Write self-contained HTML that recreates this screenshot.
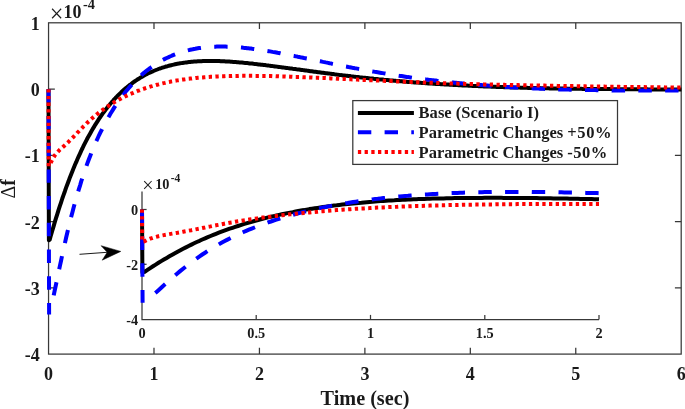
<!DOCTYPE html>
<html><head><meta charset="utf-8"><title>Figure</title>
<style>html,body{margin:0;padding:0;background:#fff}svg{display:block}text{font-family:"Liberation Serif","Times New Roman",serif;font-weight:bold;fill:#1a1a1a}.r{font-weight:normal}</style></head><body>
<svg width="685" height="409" viewBox="0 0 685 409">
<rect width="685" height="409" fill="#fff"/>
<g stroke="#383838" stroke-width="1.25" fill="none">
<rect x="48.55" y="22.80" width="632.65" height="331.30"/>
<path d="M153.99 354.10v-6.3M153.99 22.80v6.3"/>
<path d="M259.43 354.10v-6.3M259.43 22.80v6.3"/>
<path d="M364.88 354.10v-6.3M364.88 22.80v6.3"/>
<path d="M470.32 354.10v-6.3M470.32 22.80v6.3"/>
<path d="M575.76 354.10v-6.3M575.76 22.80v6.3"/>
<path d="M48.55 89.06h6.3M681.20 89.06h-6.3"/>
<path d="M48.55 155.32h6.3M681.20 155.32h-6.3"/>
<path d="M48.55 221.58h6.3M681.20 221.58h-6.3"/>
<path d="M48.55 287.84h6.3M681.20 287.84h-6.3"/>
</g>
<g font-size="18" text-anchor="end">
<text x="39.8" y="29.7">1</text>
<text x="39.8" y="96.0">0</text>
<text x="39.8" y="162.2">-1</text>
<text x="39.8" y="228.5">-2</text>
<text x="39.8" y="294.7">-3</text>
<text x="39.8" y="361.0">-4</text>
</g>
<g font-size="18" text-anchor="middle">
<text x="48.5" y="379.8">0</text>
<text x="154.0" y="379.8">1</text>
<text x="259.4" y="379.8">2</text>
<text x="364.9" y="379.8">3</text>
<text x="470.3" y="379.8">4</text>
<text x="575.8" y="379.8">5</text>
<text x="681.2" y="379.8">6</text>
</g>
<text x="365" y="405.2" font-size="20.2" text-anchor="middle">Time (sec)</text>
<text transform="translate(14.7 188.8) rotate(-90)" font-size="20" text-anchor="middle"><tspan class="r">Δ</tspan>f</text>
<text class="r" x="49.8" y="22.1" font-size="24.3">×</text><text x="63.5" y="18.4" font-size="18">10</text><text x="83" y="9.4" font-size="14.4">-4</text>
<path d="M48.5 89.2L48.9 240.2L49.7 239.8L50.9 235.3L52.2 231.0L53.5 226.6L54.7 222.4L56.0 218.2L57.3 214.1L58.5 210.1L59.8 206.2L61.1 202.3L62.3 198.5L63.6 194.8L64.9 191.2L66.1 187.6L67.4 184.2L68.7 180.8L69.9 177.4L71.2 174.2L72.5 171.0L73.7 167.9L75.0 164.8L76.3 161.9L77.5 159.0L78.8 156.1L80.1 153.3L81.3 150.6L82.6 148.0L83.8 145.4L85.1 142.9L86.4 140.4L87.6 138.0L88.9 135.7L90.2 133.4L91.4 131.2L92.7 129.0L94.0 126.9L95.2 124.8L96.5 122.8L97.8 120.8L99.0 118.9L100.3 117.0L101.6 115.2L102.8 113.4L104.1 111.7L105.4 110.0L106.6 108.4L107.9 106.8L109.2 105.2L110.4 103.7L111.7 102.2L113.0 100.8L114.2 99.4L115.5 98.0L116.8 96.7L118.0 95.4L119.3 94.1L120.6 92.9L121.8 91.7L123.1 90.5L124.4 89.4L125.6 88.3L126.9 87.3L128.2 86.2L129.4 85.2L130.7 84.3L132.0 83.3L133.2 82.4L134.5 81.5L135.8 80.6L137.0 79.8L138.3 79.0L139.6 78.2L140.8 77.4L142.1 76.7L143.3 76.0L144.6 75.3L145.9 74.6L147.1 73.9L148.4 73.3L149.7 72.7L150.9 72.1L152.2 71.6L153.5 71.0L154.7 70.5L156.0 70.0L157.3 69.5L158.5 69.0L159.8 68.5L161.1 68.1L162.3 67.7L163.6 67.3L164.9 66.9L166.1 66.5L167.4 66.2L168.7 65.8L169.9 65.5L171.2 65.2L172.5 64.9L173.7 64.6L175.0 64.3L176.3 64.0L177.5 63.8L178.8 63.6L180.1 63.3L181.3 63.1L182.6 62.9L183.9 62.7L185.1 62.6L186.4 62.4L187.7 62.2L188.9 62.1L190.2 62.0L191.5 61.8L192.7 61.7L194.0 61.6L195.3 61.5L196.5 61.4L197.8 61.3L199.1 61.3L200.3 61.2L201.6 61.2L202.9 61.1L204.1 61.1L205.4 61.0L206.7 61.0L207.9 61.0L209.2 61.0L210.4 61.0L211.7 61.0L213.0 61.0L214.2 61.0L215.5 61.0L216.8 61.1L218.0 61.1L219.3 61.1L220.6 61.2L221.8 61.2L223.1 61.3L224.4 61.3L225.6 61.4L226.9 61.5L228.2 61.6L229.4 61.6L230.7 61.7L232.0 61.8L233.2 61.9L234.5 62.0L235.8 62.1L237.0 62.2L238.3 62.3L239.6 62.4L240.8 62.5L242.1 62.6L243.4 62.7L244.6 62.9L245.9 63.0L247.2 63.1L248.4 63.2L249.7 63.4L251.0 63.5L252.2 63.6L253.5 63.8L254.8 63.9L256.0 64.1L257.3 64.2L258.6 64.4L259.8 64.5L261.1 64.7L262.4 64.8L263.6 65.0L264.9 65.1L266.2 65.3L267.4 65.4L268.7 65.6L269.9 65.7L271.2 65.9L272.5 66.1L273.7 66.2L275.0 66.4L276.3 66.6L277.5 66.7L278.8 66.9L280.1 67.1L281.3 67.2L282.6 67.4L283.9 67.6L285.1 67.7L286.4 67.9L287.7 68.1L288.9 68.2L290.2 68.4L291.5 68.6L292.7 68.8L294.0 68.9L295.3 69.1L296.5 69.3L297.8 69.4L299.1 69.6L300.3 69.8L301.6 70.0L302.9 70.1L304.1 70.3L305.4 70.5L306.7 70.6L307.9 70.8L309.2 71.0L310.5 71.2L311.7 71.3L313.0 71.5L314.3 71.7L315.5 71.8L316.8 72.0L318.1 72.2L319.3 72.3L320.6 72.5L321.9 72.7L323.1 72.8L324.4 73.0L325.7 73.2L326.9 73.3L328.2 73.5L329.5 73.6L330.7 73.8L332.0 74.0L333.2 74.1L334.5 74.3L335.8 74.4L337.0 74.6L338.3 74.8L339.6 74.9L340.8 75.1L342.1 75.2L343.4 75.4L344.6 75.5L345.9 75.7L347.2 75.8L348.4 76.0L349.7 76.1L351.0 76.3L352.2 76.4L353.5 76.6L354.8 76.7L356.0 76.9L357.3 77.0L358.6 77.1L359.8 77.3L361.1 77.4L362.4 77.6L363.6 77.7L364.9 77.8L366.2 78.0L367.4 78.1L368.7 78.2L370.0 78.4L371.2 78.5L372.5 78.6L373.8 78.8L375.0 78.9L376.3 79.0L377.6 79.1L378.8 79.3L380.1 79.4L381.4 79.5L382.6 79.6L383.9 79.8L385.2 79.9L386.4 80.0L387.7 80.1L389.0 80.2L390.2 80.4L391.5 80.5L392.8 80.6L394.0 80.7L395.3 80.8L396.6 80.9L397.8 81.0L399.1 81.1L400.3 81.2L401.6 81.3L402.9 81.5L404.1 81.6L405.4 81.7L406.7 81.8L407.9 81.9L409.2 82.0L410.5 82.1L411.7 82.2L413.0 82.3L414.3 82.4L415.5 82.5L416.8 82.5L418.1 82.6L419.3 82.7L420.6 82.8L421.9 82.9L423.1 83.0L424.4 83.1L425.7 83.2L426.9 83.3L428.2 83.4L429.5 83.4L430.7 83.5L432.0 83.6L433.3 83.7L434.5 83.8L435.8 83.9L437.1 83.9L438.3 84.0L439.6 84.1L440.9 84.2L442.1 84.3L443.4 84.3L444.7 84.4L445.9 84.5L447.2 84.6L448.5 84.6L449.7 84.7L451.0 84.8L452.3 84.8L453.5 84.9L454.8 85.0L456.1 85.1L457.3 85.1L458.6 85.2L459.8 85.3L461.1 85.3L462.4 85.4L463.6 85.5L464.9 85.5L466.2 85.6L467.4 85.6L468.7 85.7L470.0 85.8L471.2 85.8L472.5 85.9L473.8 85.9L475.0 86.0L476.3 86.1L477.6 86.1L478.8 86.2L480.1 86.2L481.4 86.3L482.6 86.3L483.9 86.4L485.2 86.4L486.4 86.5L487.7 86.5L489.0 86.6L490.2 86.6L491.5 86.7L492.8 86.7L494.0 86.8L495.3 86.8L496.6 86.9L497.8 86.9L499.1 87.0L500.4 87.0L501.6 87.1L502.9 87.1L504.2 87.2L505.4 87.2L506.7 87.2L508.0 87.3L509.2 87.3L510.5 87.4L511.8 87.4L513.0 87.4L514.3 87.5L515.6 87.5L516.8 87.6L518.1 87.6L519.4 87.6L520.6 87.7L521.9 87.7L523.1 87.7L524.4 87.8L525.7 87.8L526.9 87.8L528.2 87.9L529.5 87.9L530.7 87.9L532.0 88.0L533.3 88.0L534.5 88.0L535.8 88.1L537.1 88.1L538.3 88.1L539.6 88.1L540.9 88.2L542.1 88.2L543.4 88.2L544.7 88.3L545.9 88.3L547.2 88.3L548.5 88.3L549.7 88.4L551.0 88.4L552.3 88.4L553.5 88.4L554.8 88.5L556.1 88.5L557.3 88.5L558.6 88.5L559.9 88.5L561.1 88.6L562.4 88.6L563.7 88.6L564.9 88.6L566.2 88.6L567.5 88.7L568.7 88.7L570.0 88.7L571.3 88.7L572.5 88.7L573.8 88.8L575.1 88.8L576.3 88.8L577.6 88.8L578.9 88.8L580.1 88.8L581.4 88.8L582.7 88.9L583.9 88.9L585.2 88.9L586.4 88.9L587.7 88.9L589.0 88.9L590.2 88.9L591.5 89.0L592.8 89.0L594.0 89.0L595.3 89.0L596.6 89.0L597.8 89.0L599.1 89.0L600.4 89.0L601.6 89.1L602.9 89.1L604.2 89.1L605.4 89.1L606.7 89.1L608.0 89.1L609.2 89.1L610.5 89.1L611.8 89.1L613.0 89.2L614.3 89.2L615.6 89.2L616.8 89.2L618.1 89.2L619.4 89.2L620.6 89.2L621.9 89.2L623.2 89.2L624.4 89.2L625.7 89.2L627.0 89.2L628.2 89.3L629.5 89.3L630.8 89.3L632.0 89.3L633.3 89.3L634.6 89.3L635.8 89.3L637.1 89.3L638.4 89.3L639.6 89.3L640.9 89.3L642.2 89.3L643.4 89.3L644.7 89.3L646.0 89.3L647.2 89.3L648.5 89.4L649.7 89.4L651.0 89.4L652.3 89.4L653.5 89.4L654.8 89.4L656.1 89.4L657.3 89.4L658.6 89.4L659.9 89.4L661.1 89.4L662.4 89.4L663.7 89.4L664.9 89.4L666.2 89.4L667.5 89.4L668.7 89.4L670.0 89.4L671.3 89.4L672.5 89.4L673.8 89.4L675.1 89.4L676.3 89.4L677.6 89.4L678.9 89.4L680.1 89.5L681.4 89.5" fill="none" stroke="#000" stroke-width="4.00" stroke-linejoin="round"/>
<path d="M48.5 89.2L49.1 314.5" fill="none" stroke="#0000ff" stroke-width="4.00" stroke-dasharray="13.4 13.33" stroke-dashoffset="0"/>
<path d="M53.7 295.4L54.7 290.5L56.0 284.5L57.3 278.4L58.5 272.4L59.8 266.4L61.1 260.5L62.3 254.6L63.6 248.9L64.9 243.2L66.1 237.7L67.4 232.3L68.7 227.0L69.9 221.9L71.2 216.8L72.5 211.9L73.7 207.2L75.0 202.5L76.3 198.0L77.5 193.7L78.8 189.4L80.1 185.3L81.3 181.2L82.6 177.3L83.8 173.5L85.1 169.8L86.4 166.2L87.6 162.7L88.9 159.3L90.2 156.0L91.4 152.8L92.7 149.7L94.0 146.7L95.2 143.7L96.5 140.8L97.8 138.0L99.0 135.3L100.3 132.7L101.6 130.1L102.8 127.6L104.1 125.1L105.4 122.7L106.6 120.4L107.9 118.1L109.2 115.9L110.4 113.8L111.7 111.7L113.0 109.6L114.2 107.6L115.5 105.7L116.8 103.8L118.0 102.0L119.3 100.2L120.6 98.4L121.8 96.7L123.1 95.0L124.4 93.4L125.6 91.8L126.9 90.3L128.2 88.8L129.4 87.3L130.7 85.9L132.0 84.5L133.2 83.1L134.5 81.8L135.8 80.5L137.0 79.2L138.3 78.0L139.6 76.8L140.8 75.7L142.1 74.5L143.3 73.4L144.6 72.4L145.9 71.3L147.1 70.3L148.4 69.4L149.7 68.4L150.9 67.5L152.2 66.6L153.5 65.7L154.7 64.9L156.0 64.0L157.3 63.2L158.5 62.5L159.8 61.7L161.1 61.0L162.3 60.3L163.6 59.6L164.9 58.9L166.1 58.3L167.4 57.7L168.7 57.1L169.9 56.5L171.2 56.0L172.5 55.4L173.7 54.9L175.0 54.4L176.3 53.9L177.5 53.5L178.8 53.0L180.1 52.6L181.3 52.2L182.6 51.8L183.9 51.4L185.1 51.1L186.4 50.7L187.7 50.4L188.9 50.1L190.2 49.8L191.5 49.5L192.7 49.3L194.0 49.0L195.3 48.8L196.5 48.5L197.8 48.3L199.1 48.1L200.3 48.0L201.6 47.8L202.9 47.6L204.1 47.5L205.4 47.3L206.7 47.2L207.9 47.1L209.2 47.0L210.4 46.9L211.7 46.8L213.0 46.8L214.2 46.7L215.5 46.7L216.8 46.6L218.0 46.6L219.3 46.6L220.6 46.6L221.8 46.6L223.1 46.6L224.4 46.6L225.6 46.6L226.9 46.7L228.2 46.7L229.4 46.8L230.7 46.8L232.0 46.9L233.2 46.9L234.5 47.0L235.8 47.1L237.0 47.2L238.3 47.3L239.6 47.4L240.8 47.5L242.1 47.6L243.4 47.8L244.6 47.9L245.9 48.0L247.2 48.2L248.4 48.3L249.7 48.5L251.0 48.6L252.2 48.8L253.5 48.9L254.8 49.1L256.0 49.3L257.3 49.5L258.6 49.6L259.8 49.8L261.1 50.0L262.4 50.2L263.6 50.4L264.9 50.6L266.2 50.8L267.4 51.0L268.7 51.2L269.9 51.4L271.2 51.6L272.5 51.9L273.7 52.1L275.0 52.3L276.3 52.5L277.5 52.8L278.8 53.0L280.1 53.2L281.3 53.5L282.6 53.7L283.9 53.9L285.1 54.2L286.4 54.4L287.7 54.7L288.9 54.9L290.2 55.2L291.5 55.4L292.7 55.7L294.0 55.9L295.3 56.2L296.5 56.4L297.8 56.7L299.1 56.9L300.3 57.2L301.6 57.4L302.9 57.7L304.1 58.0L305.4 58.2L306.7 58.5L307.9 58.7L309.2 59.0L310.5 59.3L311.7 59.5L313.0 59.8L314.3 60.0L315.5 60.3L316.8 60.6L318.1 60.8L319.3 61.1L320.6 61.3L321.9 61.6L323.1 61.9L324.4 62.1L325.7 62.4L326.9 62.6L328.2 62.9L329.5 63.2L330.7 63.4L332.0 63.7L333.2 63.9L334.5 64.2L335.8 64.4L337.0 64.7L338.3 65.0L339.6 65.2L340.8 65.5L342.1 65.7L343.4 66.0L344.6 66.2L345.9 66.5L347.2 66.7L348.4 67.0L349.7 67.2L351.0 67.4L352.2 67.7L353.5 67.9L354.8 68.2L356.0 68.4L357.3 68.6L358.6 68.9L359.8 69.1L361.1 69.4L362.4 69.6L363.6 69.8L364.9 70.1L366.2 70.3L367.4 70.5L368.7 70.7L370.0 71.0L371.2 71.2L372.5 71.4L373.8 71.6L375.0 71.9L376.3 72.1L377.6 72.3L378.8 72.5L380.1 72.7L381.4 72.9L382.6 73.1L383.9 73.4L385.2 73.6L386.4 73.8L387.7 74.0L389.0 74.2L390.2 74.4L391.5 74.6L392.8 74.8L394.0 75.0L395.3 75.2L396.6 75.4L397.8 75.6L399.1 75.8L400.3 75.9L401.6 76.1L402.9 76.3L404.1 76.5L405.4 76.7L406.7 76.9L407.9 77.1L409.2 77.2L410.5 77.4L411.7 77.6L413.0 77.8L414.3 77.9L415.5 78.1L416.8 78.3L418.1 78.4L419.3 78.6L420.6 78.8L421.9 78.9L423.1 79.1L424.4 79.3L425.7 79.4L426.9 79.6L428.2 79.7L429.5 79.9L430.7 80.0L432.0 80.2L433.3 80.3L434.5 80.5L435.8 80.6L437.1 80.8L438.3 80.9L439.6 81.1L440.9 81.2L442.1 81.4L443.4 81.5L444.7 81.6L445.9 81.8L447.2 81.9L448.5 82.1L449.7 82.2L451.0 82.3L452.3 82.5L453.5 82.6L454.8 82.7L456.1 82.8L457.3 83.0L458.6 83.1L459.8 83.2L461.1 83.3L462.4 83.5L463.6 83.6L464.9 83.7L466.2 83.8L467.4 83.9L468.7 84.1L470.0 84.2L471.2 84.3L472.5 84.4L473.8 84.5L475.0 84.6L476.3 84.7L477.6 84.8L478.8 84.9L480.1 85.0L481.4 85.1L482.6 85.2L483.9 85.3L485.2 85.4L486.4 85.5L487.7 85.6L489.0 85.7L490.2 85.8L491.5 85.9L492.8 86.0L494.0 86.1L495.3 86.2L496.6 86.3L497.8 86.4L499.1 86.5L500.4 86.6L501.6 86.6L502.9 86.7L504.2 86.8L505.4 86.9L506.7 87.0L508.0 87.0L509.2 87.1L510.5 87.2L511.8 87.3L513.0 87.3L514.3 87.4L515.6 87.5L516.8 87.6L518.1 87.6L519.4 87.7L520.6 87.8L521.9 87.8L523.1 87.9L524.4 88.0L525.7 88.0L526.9 88.1L528.2 88.2L529.5 88.2L530.7 88.3L532.0 88.3L533.3 88.4L534.5 88.5L535.8 88.5L537.1 88.6L538.3 88.6L539.6 88.7L540.9 88.7L542.1 88.8L543.4 88.8L544.7 88.9L545.9 88.9L547.2 89.0L548.5 89.0L549.7 89.1L551.0 89.1L552.3 89.2L553.5 89.2L554.8 89.2L556.1 89.3L557.3 89.3L558.6 89.4L559.9 89.4L561.1 89.4L562.4 89.5L563.7 89.5L564.9 89.5L566.2 89.6L567.5 89.6L568.7 89.6L570.0 89.7L571.3 89.7L572.5 89.7L573.8 89.8L575.1 89.8L576.3 89.8L577.6 89.8L578.9 89.9L580.1 89.9L581.4 89.9L582.7 89.9L583.9 90.0L585.2 90.0L586.4 90.0L587.7 90.0L589.0 90.0L590.2 90.1L591.5 90.1L592.8 90.1L594.0 90.1L595.3 90.1L596.6 90.2L597.8 90.2L599.1 90.2L600.4 90.2L601.6 90.2L602.9 90.3L604.2 90.3L605.4 90.3L606.7 90.3L608.0 90.3L609.2 90.3L610.5 90.3L611.8 90.4L613.0 90.4L614.3 90.4L615.6 90.4L616.8 90.4L618.1 90.4L619.4 90.4L620.6 90.4L621.9 90.4L623.2 90.5L624.4 90.5L625.7 90.5L627.0 90.5L628.2 90.5L629.5 90.5L630.8 90.5L632.0 90.5L633.3 90.5L634.6 90.5L635.8 90.5L637.1 90.5L638.4 90.5L639.6 90.6L640.9 90.6L642.2 90.6L643.4 90.6L644.7 90.6L646.0 90.6L647.2 90.6L648.5 90.6L649.7 90.6L651.0 90.6L652.3 90.6L653.5 90.6L654.8 90.6L656.1 90.6L657.3 90.6L658.6 90.6L659.9 90.6L661.1 90.6L662.4 90.6L663.7 90.6L664.9 90.6L666.2 90.6L667.5 90.6L668.7 90.6L670.0 90.6L671.3 90.6L672.5 90.6L673.8 90.6L675.1 90.6L676.3 90.6L677.6 90.6L678.9 90.6L680.1 90.6L681.4 90.6" fill="none" stroke="#0000ff" stroke-width="4.00" stroke-dasharray="13.4 13.33"/>
<path d="M48.5 89.2L48.7 166.9" fill="none" stroke="#ff0000" stroke-width="4.00" stroke-dasharray="3.3 3.4" stroke-dashoffset="0"/>
<path d="M50.7 163.1L50.9 162.5L52.2 159.8L53.5 157.5L54.7 155.5L56.0 153.9L57.3 152.4L58.5 151.1L59.8 149.8L61.1 148.7L62.3 147.5L63.6 146.4L64.9 145.2L66.1 144.1L67.4 142.9L68.7 141.7L69.9 140.4L71.2 139.2L72.5 137.9L73.7 136.6L75.0 135.3L76.3 134.0L77.5 132.6L78.8 131.3L80.1 130.0L81.3 128.7L82.6 127.4L83.8 126.1L85.1 124.9L86.4 123.7L87.6 122.4L88.9 121.3L90.2 120.1L91.4 118.9L92.7 117.8L94.0 116.7L95.2 115.7L96.5 114.6L97.8 113.6L99.0 112.6L100.3 111.6L101.6 110.7L102.8 109.8L104.1 108.9L105.4 108.0L106.6 107.1L107.9 106.3L109.2 105.4L110.4 104.6L111.7 103.8L113.0 103.1L114.2 102.3L115.5 101.6L116.8 100.8L118.0 100.1L119.3 99.4L120.6 98.8L121.8 98.1L123.1 97.4L124.4 96.8L125.6 96.2L126.9 95.6L128.2 95.0L129.4 94.4L130.7 93.9L132.0 93.3L133.2 92.8L134.5 92.2L135.8 91.7L137.0 91.2L138.3 90.7L139.6 90.3L140.8 89.8L142.1 89.3L143.3 88.9L144.6 88.5L145.9 88.0L147.1 87.6L148.4 87.2L149.7 86.8L150.9 86.4L152.2 86.1L153.5 85.7L154.7 85.4L156.0 85.0L157.3 84.7L158.5 84.4L159.8 84.0L161.1 83.7L162.3 83.4L163.6 83.1L164.9 82.9L166.1 82.6L167.4 82.3L168.7 82.0L169.9 81.8L171.2 81.5L172.5 81.3L173.7 81.1L175.0 80.8L176.3 80.6L177.5 80.4L178.8 80.2L180.1 80.0L181.3 79.8L182.6 79.6L183.9 79.4L185.1 79.3L186.4 79.1L187.7 78.9L188.9 78.8L190.2 78.6L191.5 78.5L192.7 78.3L194.0 78.2L195.3 78.1L196.5 77.9L197.8 77.8L199.1 77.7L200.3 77.6L201.6 77.5L202.9 77.4L204.1 77.3L205.4 77.2L206.7 77.1L207.9 77.0L209.2 76.9L210.4 76.8L211.7 76.7L213.0 76.7L214.2 76.6L215.5 76.5L216.8 76.5L218.0 76.4L219.3 76.3L220.6 76.3L221.8 76.2L223.1 76.2L224.4 76.2L225.6 76.1L226.9 76.1L228.2 76.0L229.4 76.0L230.7 76.0L232.0 76.0L233.2 75.9L234.5 75.9L235.8 75.9L237.0 75.9L238.3 75.9L239.6 75.8L240.8 75.8L242.1 75.8L243.4 75.8L244.6 75.8L245.9 75.8L247.2 75.8L248.4 75.8L249.7 75.8L251.0 75.8L252.2 75.8L253.5 75.8L254.8 75.9L256.0 75.9L257.3 75.9L258.6 75.9L259.8 75.9L261.1 75.9L262.4 75.9L263.6 76.0L264.9 76.0L266.2 76.0L267.4 76.0L268.7 76.1L269.9 76.1L271.2 76.1L272.5 76.2L273.7 76.2L275.0 76.2L276.3 76.3L277.5 76.3L278.8 76.3L280.1 76.4L281.3 76.4L282.6 76.4L283.9 76.5L285.1 76.5L286.4 76.6L287.7 76.6L288.9 76.6L290.2 76.7L291.5 76.7L292.7 76.8L294.0 76.8L295.3 76.9L296.5 76.9L297.8 77.0L299.1 77.0L300.3 77.1L301.6 77.1L302.9 77.2L304.1 77.2L305.4 77.3L306.7 77.3L307.9 77.4L309.2 77.4L310.5 77.5L311.7 77.5L313.0 77.6L314.3 77.6L315.5 77.7L316.8 77.7L318.1 77.8L319.3 77.9L320.6 77.9L321.9 78.0L323.1 78.0L324.4 78.1L325.7 78.1L326.9 78.2L328.2 78.3L329.5 78.3L330.7 78.4L332.0 78.4L333.2 78.5L334.5 78.5L335.8 78.6L337.0 78.7L338.3 78.7L339.6 78.8L340.8 78.8L342.1 78.9L343.4 78.9L344.6 79.0L345.9 79.1L347.2 79.1L348.4 79.2L349.7 79.2L351.0 79.3L352.2 79.4L353.5 79.4L354.8 79.5L356.0 79.5L357.3 79.6L358.6 79.7L359.8 79.7L361.1 79.8L362.4 79.8L363.6 79.9L364.9 79.9L366.2 80.0L367.4 80.1L368.7 80.1L370.0 80.2L371.2 80.2L372.5 80.3L373.8 80.3L375.0 80.4L376.3 80.5L377.6 80.5L378.8 80.6L380.1 80.6L381.4 80.7L382.6 80.7L383.9 80.8L385.2 80.9L386.4 80.9L387.7 81.0L389.0 81.0L390.2 81.1L391.5 81.1L392.8 81.2L394.0 81.2L395.3 81.3L396.6 81.4L397.8 81.4L399.1 81.5L400.3 81.5L401.6 81.6L402.9 81.6L404.1 81.7L405.4 81.7L406.7 81.8L407.9 81.8L409.2 81.9L410.5 81.9L411.7 82.0L413.0 82.0L414.3 82.1L415.5 82.2L416.8 82.2L418.1 82.3L419.3 82.3L420.6 82.4L421.9 82.4L423.1 82.5L424.4 82.5L425.7 82.5L426.9 82.6L428.2 82.6L429.5 82.7L430.7 82.7L432.0 82.8L433.3 82.8L434.5 82.9L435.8 82.9L437.1 83.0L438.3 83.0L439.6 83.1L440.9 83.1L442.1 83.1L443.4 83.2L444.7 83.2L445.9 83.3L447.2 83.3L448.5 83.3L449.7 83.4L451.0 83.4L452.3 83.5L453.5 83.5L454.8 83.5L456.1 83.6L457.3 83.6L458.6 83.7L459.8 83.7L461.1 83.7L462.4 83.8L463.6 83.8L464.9 83.9L466.2 83.9L467.4 83.9L468.7 84.0L470.0 84.0L471.2 84.0L472.5 84.1L473.8 84.1L475.0 84.1L476.3 84.2L477.6 84.2L478.8 84.2L480.1 84.3L481.4 84.3L482.6 84.3L483.9 84.4L485.2 84.4L486.4 84.4L487.7 84.5L489.0 84.5L490.2 84.5L491.5 84.5L492.8 84.6L494.0 84.6L495.3 84.6L496.6 84.7L497.8 84.7L499.1 84.7L500.4 84.8L501.6 84.8L502.9 84.8L504.2 84.8L505.4 84.9L506.7 84.9L508.0 84.9L509.2 84.9L510.5 85.0L511.8 85.0L513.0 85.0L514.3 85.1L515.6 85.1L516.8 85.1L518.1 85.1L519.4 85.2L520.6 85.2L521.9 85.2L523.1 85.2L524.4 85.3L525.7 85.3L526.9 85.3L528.2 85.3L529.5 85.4L530.7 85.4L532.0 85.4L533.3 85.4L534.5 85.4L535.8 85.5L537.1 85.5L538.3 85.5L539.6 85.5L540.9 85.6L542.1 85.6L543.4 85.6L544.7 85.6L545.9 85.7L547.2 85.7L548.5 85.7L549.7 85.7L551.0 85.7L552.3 85.8L553.5 85.8L554.8 85.8L556.1 85.8L557.3 85.9L558.6 85.9L559.9 85.9L561.1 85.9L562.4 85.9L563.7 86.0L564.9 86.0L566.2 86.0L567.5 86.0L568.7 86.1L570.0 86.1L571.3 86.1L572.5 86.1L573.8 86.1L575.1 86.2L576.3 86.2L577.6 86.2L578.9 86.2L580.1 86.3L581.4 86.3L582.7 86.3L583.9 86.3L585.2 86.3L586.4 86.4L587.7 86.4L589.0 86.4L590.2 86.4L591.5 86.4L592.8 86.5L594.0 86.5L595.3 86.5L596.6 86.5L597.8 86.5L599.1 86.6L600.4 86.6L601.6 86.6L602.9 86.6L604.2 86.6L605.4 86.7L606.7 86.7L608.0 86.7L609.2 86.7L610.5 86.7L611.8 86.7L613.0 86.8L614.3 86.8L615.6 86.8L616.8 86.8L618.1 86.8L619.4 86.8L620.6 86.9L621.9 86.9L623.2 86.9L624.4 86.9L625.7 86.9L627.0 86.9L628.2 87.0L629.5 87.0L630.8 87.0L632.0 87.0L633.3 87.0L634.6 87.0L635.8 87.0L637.1 87.1L638.4 87.1L639.6 87.1L640.9 87.1L642.2 87.1L643.4 87.1L644.7 87.1L646.0 87.2L647.2 87.2L648.5 87.2L649.7 87.2L651.0 87.2L652.3 87.2L653.5 87.2L654.8 87.3L656.1 87.3L657.3 87.3L658.6 87.3L659.9 87.3L661.1 87.3L662.4 87.3L663.7 87.3L664.9 87.4L666.2 87.4L667.5 87.4L668.7 87.4L670.0 87.4L671.3 87.4L672.5 87.4L673.8 87.4L675.1 87.5L676.3 87.5L677.6 87.5L678.9 87.5L680.1 87.5L681.4 87.5" fill="none" stroke="#ff0000" stroke-width="4.00" stroke-dasharray="3.3 3.4"/>
<rect x="352.8" y="100.6" width="264.7" height="63.8" fill="#fff" stroke="#383838" stroke-width="1.25"/>
<path d="M357.9 113.0H413.9" stroke="#000" stroke-width="4.00"/>
<text x="418.6" y="118.4" font-size="16.55">Base (Scenario I)</text>
<path d="M357.9 132.3H413.9" stroke="#0000ff" stroke-width="4.00" stroke-dasharray="13.4 13.3"/>
<text x="418.6" y="138.3" font-size="16.55">Parametric Changes <tspan letter-spacing="0.55">+50%</tspan></text>
<path d="M357.9 152.0H413.9" stroke="#ff0000" stroke-width="4.00" stroke-dasharray="3.3 3.4"/>
<text x="418.6" y="157.6" font-size="16.55">Parametric Changes <tspan letter-spacing="0.45">-50%</tspan></text>
<g stroke="#383838" stroke-width="1.25" fill="none">
<path d="M142.0 191.4V319.5H599.0"/>
<path d="M256.2 319.5v-4.6"/>
<path d="M370.5 319.5v-4.6"/>
<path d="M484.8 319.5v-4.6"/>
<path d="M599.0 319.5v-4.6"/>
<path d="M142.0 209.5h4.6"/>
<path d="M142.0 264.3h4.6"/>
</g>
<g font-size="14.3" text-anchor="end">
<text x="138.2" y="215.0">0</text>
<text x="138.2" y="269.8">-2</text>
<text x="138.2" y="325.2">-4</text>
</g>
<g font-size="14.3" text-anchor="middle">
<text x="142.0" y="337.5">0</text>
<text x="256.2" y="337.5">0.5</text>
<text x="370.5" y="337.5">1</text>
<text x="484.8" y="337.5">1.5</text>
<text x="599.0" y="337.5">2</text>
</g>
<text class="r" x="142.3" y="191.6" font-size="20">×</text><text x="155.2" y="188.6" font-size="14.3">10</text><text x="170.7" y="182.1" font-size="11.6">-4</text>
<path d="M142.0 209.5L142.4 272.4L144.7 271.8L147.5 269.9L150.2 268.1L153.0 266.3L155.7 264.6L158.5 262.8L161.2 261.1L163.9 259.5L166.7 257.9L169.4 256.3L172.2 254.7L174.9 253.2L177.6 251.7L180.4 250.2L183.1 248.8L185.9 247.4L188.6 246.0L191.4 244.6L194.1 243.3L196.8 242.0L199.6 240.8L202.3 239.5L205.1 238.3L207.8 237.2L210.6 236.0L213.3 234.9L216.0 233.8L218.8 232.7L221.5 231.7L224.3 230.7L227.0 229.7L229.7 228.7L232.5 227.8L235.2 226.9L238.0 226.0L240.7 225.1L243.5 224.2L246.2 223.4L248.9 222.6L251.7 221.8L254.4 221.0L257.2 220.3L259.9 219.5L262.6 218.8L265.4 218.1L268.1 217.4L270.9 216.8L273.6 216.1L276.4 215.5L279.1 214.9L281.8 214.3L284.6 213.7L287.3 213.1L290.1 212.6L292.8 212.1L295.6 211.5L298.3 211.0L301.0 210.5L303.8 210.1L306.5 209.6L309.3 209.1L312.0 208.7L314.7 208.3L317.5 207.9L320.2 207.5L323.0 207.1L325.7 206.7L328.5 206.3L331.2 206.0L333.9 205.6L336.7 205.3L339.4 204.9L342.2 204.6L344.9 204.3L347.6 204.0L350.4 203.7L353.1 203.5L355.9 203.2L358.6 202.9L361.4 202.7L364.1 202.4L366.8 202.2L369.6 202.0L372.3 201.8L375.1 201.5L377.8 201.3L380.6 201.1L383.3 201.0L386.0 200.8L388.8 200.6L391.5 200.4L394.3 200.3L397.0 200.1L399.7 200.0L402.5 199.8L405.2 199.7L408.0 199.6L410.7 199.4L413.5 199.3L416.2 199.2L418.9 199.1L421.7 199.0L424.4 198.9L427.2 198.8L429.9 198.7L432.7 198.6L435.4 198.6L438.1 198.5L440.9 198.4L443.6 198.4L446.4 198.3L449.1 198.2L451.8 198.2L454.6 198.1L457.3 198.1L460.1 198.1L462.8 198.0L465.6 198.0L468.3 198.0L471.0 197.9L473.8 197.9L476.5 197.9L479.3 197.9L482.0 197.9L484.8 197.8L487.5 197.8L490.2 197.8L493.0 197.8L495.7 197.8L498.5 197.8L501.2 197.8L503.9 197.9L506.7 197.9L509.4 197.9L512.2 197.9L514.9 197.9L517.7 197.9L520.4 198.0L523.1 198.0L525.9 198.0L528.6 198.0L531.4 198.1L534.1 198.1L536.8 198.1L539.6 198.2L542.3 198.2L545.1 198.2L547.8 198.3L550.6 198.3L553.3 198.4L556.0 198.4L558.8 198.5L561.5 198.5L564.3 198.6L567.0 198.6L569.8 198.7L572.5 198.7L575.2 198.8L578.0 198.8L580.7 198.9L583.5 198.9L586.2 199.0L588.9 199.1L591.7 199.1L594.4 199.2L597.2 199.2L599.0 199.3" fill="none" stroke="#000" stroke-width="4.00" stroke-linejoin="round"/>
<path d="M142.0 209.5L142.6 302.8" fill="none" stroke="#0000ff" stroke-width="4.00" stroke-dasharray="13.4 13.33" stroke-dashoffset="-0.3"/>
<path d="M155.3 293.0L155.7 292.7L158.5 290.2L161.2 287.7L163.9 285.2L166.7 282.8L169.4 280.3L172.2 277.9L174.9 275.5L177.6 273.2L180.4 270.9L183.1 268.7L185.9 266.5L188.6 264.3L191.4 262.3L194.1 260.2L196.8 258.3L199.6 256.4L202.3 254.5L205.1 252.7L207.8 250.9L210.6 249.2L213.3 247.5L216.0 245.9L218.8 244.4L221.5 242.8L224.3 241.3L227.0 239.9L229.7 238.5L232.5 237.1L235.2 235.8L238.0 234.5L240.7 233.3L243.5 232.0L246.2 230.8L248.9 229.7L251.7 228.6L254.4 227.5L257.2 226.4L259.9 225.4L262.6 224.3L265.4 223.4L268.1 222.4L270.9 221.5L273.6 220.5L276.4 219.7L279.1 218.8L281.8 217.9L284.6 217.1L287.3 216.3L290.1 215.5L292.8 214.8L295.6 214.0L298.3 213.3L301.0 212.6L303.8 211.9L306.5 211.2L309.3 210.6L312.0 209.9L314.7 209.3L317.5 208.7L320.2 208.1L323.0 207.5L325.7 207.0L328.5 206.4L331.2 205.9L333.9 205.4L336.7 204.9L339.4 204.4L342.2 203.9L344.9 203.4L347.6 203.0L350.4 202.5L353.1 202.1L355.9 201.7L358.6 201.3L361.4 200.9L364.1 200.5L366.8 200.1L369.6 199.8L372.3 199.4L375.1 199.1L377.8 198.8L380.6 198.4L383.3 198.1L386.0 197.8L388.8 197.5L391.5 197.3L394.3 197.0L397.0 196.7L399.7 196.5L402.5 196.2L405.2 196.0L408.0 195.8L410.7 195.5L413.5 195.3L416.2 195.1L418.9 194.9L421.7 194.7L424.4 194.5L427.2 194.4L429.9 194.2L432.7 194.0L435.4 193.9L438.1 193.7L440.9 193.6L443.6 193.5L446.4 193.3L449.1 193.2L451.8 193.1L454.6 193.0L457.3 192.9L460.1 192.8L462.8 192.7L465.6 192.6L468.3 192.5L471.0 192.4L473.8 192.4L476.5 192.3L479.3 192.3L482.0 192.2L484.8 192.1L487.5 192.1L490.2 192.1L493.0 192.0L495.7 192.0L498.5 192.0L501.2 191.9L503.9 191.9L506.7 191.9L509.4 191.9L512.2 191.9L514.9 191.9L517.7 191.9L520.4 191.9L523.1 191.9L525.9 191.9L528.6 191.9L531.4 191.9L534.1 192.0L536.8 192.0L539.6 192.0L542.3 192.0L545.1 192.1L547.8 192.1L550.6 192.1L553.3 192.2L556.0 192.2L558.8 192.3L561.5 192.3L564.3 192.4L567.0 192.4L569.8 192.5L572.5 192.5L575.2 192.6L578.0 192.7L580.7 192.7L583.5 192.8L586.2 192.9L588.9 192.9L591.7 193.0L594.4 193.1L597.2 193.1L599.0 193.2" fill="none" stroke="#0000ff" stroke-width="4.00" stroke-dasharray="13.4 13.33"/>
<path d="M142.0 209.5L142.2 241.7L144.7 241.2L147.5 239.8L150.2 238.7L153.0 237.7L155.7 236.9L158.5 236.2L161.2 235.6L163.9 235.1L166.7 234.6L169.4 234.1L172.2 233.6L174.9 233.1L177.6 232.7L180.4 232.2L183.1 231.7L185.9 231.2L188.6 230.7L191.4 230.2L194.1 229.6L196.8 229.1L199.6 228.6L202.3 228.0L205.1 227.5L207.8 226.9L210.6 226.4L213.3 225.8L216.0 225.3L218.8 224.8L221.5 224.3L224.3 223.7L227.0 223.2L229.7 222.7L232.5 222.3L235.2 221.8L238.0 221.3L240.7 220.9L243.5 220.4L246.2 220.0L248.9 219.6L251.7 219.2L254.4 218.8L257.2 218.4L259.9 218.0L262.6 217.6L265.4 217.3L268.1 216.9L270.9 216.6L273.6 216.2L276.4 215.9L279.1 215.5L281.8 215.2L284.6 214.9L287.3 214.6L290.1 214.3L292.8 214.0L295.6 213.7L298.3 213.4L301.0 213.2L303.8 212.9L306.5 212.6L309.3 212.4L312.0 212.1L314.7 211.9L317.5 211.7L320.2 211.4L323.0 211.2L325.7 211.0L328.5 210.8L331.2 210.5L333.9 210.3L336.7 210.1L339.4 209.9L342.2 209.7L344.9 209.6L347.6 209.4L350.4 209.2L353.1 209.0L355.9 208.8L358.6 208.7L361.4 208.5L364.1 208.4L366.8 208.2L369.6 208.1L372.3 207.9L375.1 207.8L377.8 207.6L380.6 207.5L383.3 207.4L386.0 207.2L388.8 207.1L391.5 207.0L394.3 206.9L397.0 206.8L399.7 206.6L402.5 206.5L405.2 206.4L408.0 206.3L410.7 206.2L413.5 206.1L416.2 206.0L418.9 206.0L421.7 205.9L424.4 205.8L427.2 205.7L429.9 205.6L432.7 205.5L435.4 205.5L438.1 205.4L440.9 205.3L443.6 205.3L446.4 205.2L449.1 205.1L451.8 205.1L454.6 205.0L457.3 205.0L460.1 204.9L462.8 204.8L465.6 204.8L468.3 204.7L471.0 204.7L473.8 204.6L476.5 204.6L479.3 204.6L482.0 204.5L484.8 204.5L487.5 204.4L490.2 204.4L493.0 204.4L495.7 204.3L498.5 204.3L501.2 204.3L503.9 204.3L506.7 204.2L509.4 204.2L512.2 204.2L514.9 204.2L517.7 204.1L520.4 204.1L523.1 204.1L525.9 204.1L528.6 204.1L531.4 204.1L534.1 204.0L536.8 204.0L539.6 204.0L542.3 204.0L545.1 204.0L547.8 204.0L550.6 204.0L553.3 204.0L556.0 204.0L558.8 204.0L561.5 204.0L564.3 204.0L567.0 204.0L569.8 204.0L572.5 204.0L575.2 204.0L578.0 204.0L580.7 204.0L583.5 204.0L586.2 204.0L588.9 204.0L591.7 204.0L594.4 204.0L597.2 204.0L599.0 204.0" fill="none" stroke="#ff0000" stroke-width="4.00" stroke-linejoin="round" stroke-dasharray="3.3 3.4" stroke-dashoffset="0.00"/>
<path d="M79.5 254.3L107.2 252.3" stroke="#000" stroke-width="0.9" fill="none"/>
<path d="M120.8 251.4L101.1 245.7L107.2 252.3L102.2 260.2Z" fill="#000" stroke="#000" stroke-width="0.5" stroke-linejoin="miter"/>
</svg></body></html>
